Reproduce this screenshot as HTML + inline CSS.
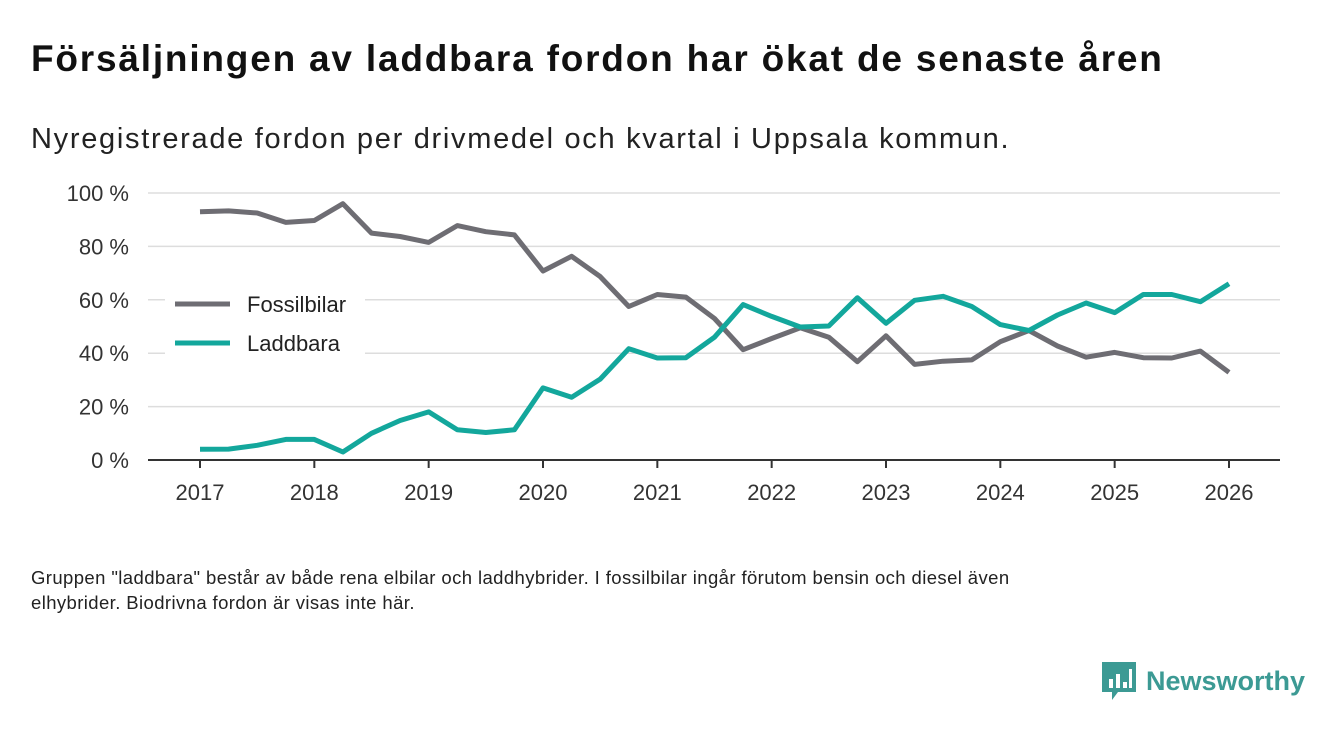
<!DOCTYPE html>
<html><head><meta charset="utf-8"><style>
body{margin:0;background:#fff;font-family:"Liberation Sans","DejaVu Sans",sans-serif;}
#wrap{position:relative;width:1340px;height:733px;overflow:hidden;background:#fff;}
h1{position:absolute;left:31px;top:38px;margin:0;font-size:37px;font-weight:bold;color:#111;letter-spacing:1.8px;white-space:nowrap;}
.sub{position:absolute;left:31px;top:123px;font-size:29px;color:#222;letter-spacing:1.7px;white-space:nowrap;}
.note{position:absolute;left:31px;top:565px;font-size:18.5px;line-height:25px;color:#222;white-space:nowrap;letter-spacing:0.4px;}
.logo{position:absolute;left:1102px;top:662px;display:flex;align-items:center;}
.logo span{font-size:27px;font-weight:bold;color:#3c9a94;margin-left:10px;}
svg text{font-family:"Liberation Sans","DejaVu Sans",sans-serif;}
</style></head><body>
<div id="wrap">
<h1>Försäljningen av laddbara fordon har ökat de senaste åren</h1>
<div class="sub">Nyregistrerade fordon per drivmedel och kvartal i Uppsala kommun.</div>
<svg id="chart" width="1340" height="733" style="position:absolute;left:0;top:0"></svg>
<div class="note">Gruppen "laddbara" består av både rena elbilar och laddhybrider. I fossilbilar ingår förutom bensin och diesel även<br>elhybrider. Biodrivna fordon är visas inte här.</div>
<div class="logo">
<svg width="34" height="38" viewBox="0 0 34 38"><path d="M0 0h34v30H16l-6 8v-8H0z" fill="#3c9a94"/><rect x="7" y="17" width="4" height="9" fill="#fff"/><rect x="14" y="12" width="4" height="14" fill="#fff"/><rect x="21" y="20" width="4" height="6" fill="#fff"/><rect x="27" y="7" width="3" height="19" fill="#fff"/></svg>
<span>Newsworthy</span></div>
</div>
<script>
const years=[2017,2018,2019,2020,2021,2022,2023,2024,2025,2026];
const yTicks=[0,20,40,60,80,100];
const fossil=[93,93.3,92.5,89,89.7,96,85,83.7,81.5,87.8,85.5,84.3,70.8,76.3,68.7,57.5,62,61,53,41.3,45.5,49.5,46,36.8,46.5,35.8,37,37.5,44.3,48.5,42.7,38.5,40.3,38.3,38.2,40.8,32.8];
const laddbara=[4,4.1,5.5,7.7,7.7,3,10,14.8,18,11.3,10.3,11.3,27,23.5,30.3,41.7,38.2,38.3,46,58.2,53.8,49.8,50.2,60.8,51.2,59.8,61.3,57.5,50.7,48.5,54.3,58.8,55.2,62,62,59.3,66];
const svg=document.getElementById('chart');const NS='http://www.w3.org/2000/svg';
const x=t=>200+(t-2017)*(1229-200)/9;
const y=v=>460-v*(460-193)/100;
function mk(tag,attrs){const e=document.createElementNS(NS,tag);for(const k in attrs)e.setAttribute(k,attrs[k]);svg.appendChild(e);return e;}
yTicks.forEach(v=>{
 if(v>0){const g=mk('line',{x1:148,x2:1280,y1:y(v),y2:y(v),stroke:'#ddd','stroke-width':1.5});
 
 }
 const t=mk('text',{x:129,y:y(v)+8,'text-anchor':'end','font-size':22,fill:'#333'});t.textContent=v+' %';
 
 
});
const ax=mk('line',{x1:148,x2:1280,y1:460,y2:460,stroke:'#333','stroke-width':2});


years.forEach(yr=>{
 const tk=mk('line',{x1:x(yr),x2:x(yr),y1:460,y2:468,stroke:'#333','stroke-width':2});
 
 
 const t=mk('text',{x:x(yr),y:500,'text-anchor':'middle','font-size':22,fill:'#333'});t.textContent=yr;
 
 
});
function line(data,color,name){
 const d=data.map((v,i)=>(i?'L':'M')+x(2017+i/4).toFixed(1)+' '+y(v).toFixed(1)).join(' ');
 const p=mk('path',{d:d,fill:'none',stroke:color,'stroke-width':5,'stroke-linejoin':'round'});
 
 
}
line(fossil,'#6e6d73','fossilbilar-line');
line(laddbara,'#13a79c','laddbara-line');
const bg=mk('rect',{x:165,y:285,width:200,height:75,fill:'#fff'});


[['Fossilbilar','#6e6d73',304],['Laddbara','#13a79c',343]].forEach(([n,c,yy])=>{
 const l=mk('line',{x1:175,x2:230,y1:yy,y2:yy,stroke:c,'stroke-width':5});
 
 
 const t=mk('text',{x:247,y:yy+8,'font-size':22,fill:'#222'});t.textContent=n;
 
 
});
</script>
</body></html>
